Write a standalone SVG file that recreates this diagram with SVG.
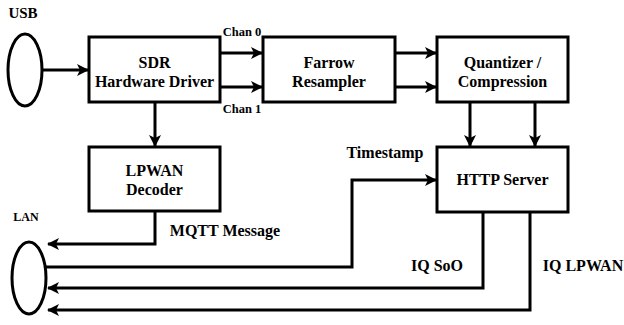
<svg xmlns="http://www.w3.org/2000/svg" width="624" height="325" viewBox="0 0 624 325">
<defs>
<marker id="ah" viewBox="0 0 12 12" refX="11" refY="6" markerWidth="12" markerHeight="12" markerUnits="userSpaceOnUse" orient="auto">
<path d="M0,0 L12,6 L0,12 L3,6 Z" fill="#000"/>
</marker>
</defs>
<rect width="624" height="325" fill="#fff"/>
<g id="connectors" fill="none" stroke="#000" stroke-width="3">
<path d="M42,70 H88" marker-end="url(#ah)"/>
<path d="M220,53 H262" marker-end="url(#ah)"/>
<path d="M220,87 H262" marker-end="url(#ah)"/>
<path d="M395,53 H436" marker-end="url(#ah)"/>
<path d="M395,87 H436" marker-end="url(#ah)"/>
<path d="M155,102 V146" marker-end="url(#ah)"/>
<path d="M470,102 V146" marker-end="url(#ah)"/>
<path d="M535,102 V146" marker-end="url(#ah)"/>
<path d="M46,267 H352 V180 H436" marker-end="url(#ah)"/>
<path d="M155,211 V244 H48" marker-end="url(#ah)"/>
<path d="M483,212 V288 H48" marker-end="url(#ah)"/>
<path d="M530,212 V310 H48" marker-end="url(#ah)"/>
</g>
<g id="labels" fill="#000">
<text x="242" y="36" font-family="Liberation Serif" font-weight="bold" text-anchor="middle" font-size="12.5">Chan 0</text>
<text x="242" y="113" font-family="Liberation Serif" font-weight="bold" text-anchor="middle" font-size="12.5">Chan 1</text>
<text x="385" y="158" font-family="Liberation Serif" font-weight="bold" text-anchor="middle" font-size="16">Timestamp</text>
<text x="225" y="236" font-family="Liberation Serif" font-weight="bold" text-anchor="middle" font-size="16">MQTT Message</text>
<text x="437" y="271" font-family="Liberation Serif" font-weight="bold" text-anchor="middle" font-size="16">IQ SoO</text>
<text x="583" y="271" font-family="Liberation Serif" font-weight="bold" text-anchor="middle" font-size="16">IQ LPWAN</text>
</g>
<g id="usb">
<ellipse cx="25" cy="70" rx="17" ry="36" fill="#fff" stroke="#000" stroke-width="3"/>
<text x="23" y="18" font-family="Liberation Serif" font-weight="bold" text-anchor="middle" font-size="15">USB</text>
</g>
<g id="lan">
<ellipse cx="29" cy="278" rx="17" ry="36" fill="#fff" stroke="#000" stroke-width="3"/>
<text x="26" y="221" font-family="Liberation Serif" font-weight="bold" text-anchor="middle" font-size="12">LAN</text>
</g>
<g id="sdr">
<rect x="89" y="37" width="131" height="65" fill="#fff" stroke="#000" stroke-width="3"/>
<text x="154.5" y="68" font-family="Liberation Serif" font-weight="bold" text-anchor="middle" font-size="16">SDR</text>
<text x="154.5" y="87" font-family="Liberation Serif" font-weight="bold" text-anchor="middle" font-size="16">Hardware Driver</text>
</g>
<g id="farrow">
<rect x="263" y="37" width="132" height="65" fill="#fff" stroke="#000" stroke-width="3"/>
<text x="329" y="68" font-family="Liberation Serif" font-weight="bold" text-anchor="middle" font-size="16">Farrow</text>
<text x="329" y="87" font-family="Liberation Serif" font-weight="bold" text-anchor="middle" font-size="16">Resampler</text>
</g>
<g id="quantizer">
<rect x="437" y="37" width="131" height="65" fill="#fff" stroke="#000" stroke-width="3"/>
<text x="502.5" y="68" font-family="Liberation Serif" font-weight="bold" text-anchor="middle" font-size="16">Quantizer /</text>
<text x="502.5" y="87" font-family="Liberation Serif" font-weight="bold" text-anchor="middle" font-size="16">Compression</text>
</g>
<g id="lpwan">
<rect x="89" y="147" width="131" height="64" fill="#fff" stroke="#000" stroke-width="3"/>
<text x="154.5" y="176" font-family="Liberation Serif" font-weight="bold" text-anchor="middle" font-size="16">LPWAN</text>
<text x="154.5" y="195" font-family="Liberation Serif" font-weight="bold" text-anchor="middle" font-size="16">Decoder</text>
</g>
<g id="http">
<rect x="437" y="147" width="131" height="65" fill="#fff" stroke="#000" stroke-width="3"/>
<text x="502.5" y="185" font-family="Liberation Serif" font-weight="bold" text-anchor="middle" font-size="16">HTTP Server</text>
</g>
</svg>
